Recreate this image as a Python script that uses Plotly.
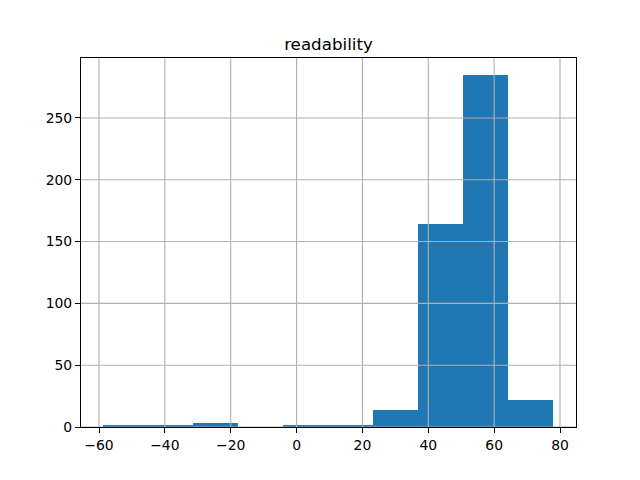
import plotly.graph_objects as go

bin_edges = [-58.8, -45.13, -31.46, -17.79, -4.12, 9.55, 23.22, 36.89, 50.56, 64.23, 77.9]
counts = [2, 1, 3, 0, 1, 1, 14, 164, 285, 22]
x_ticks = [-60, -40, -20, 0, 20, 40, 60, 80]
y_ticks = [0, 50, 100, 150, 200, 250]

centers = [(bin_edges[i] + bin_edges[i + 1]) / 2 for i in range(len(counts))]
widths = [bin_edges[i + 1] - bin_edges[i] for i in range(len(counts))]

fig = go.Figure(go.Bar(x=centers, y=counts, width=widths, marker=dict(color="#1f77b4", line=dict(width=0)),
                       hoverinfo="x+y"))

axis_common = dict(showline=True, linecolor="black", linewidth=1.1, mirror=True,
                   ticks="outside", ticklen=5, tickwidth=1.1, tickcolor="black",
                   showgrid=False, zeroline=False,
                   layer="above traces", tickfont=dict(family="DejaVu Sans", size=13.9, color="black"))

grid_style = dict(color="#b0b0b0", width=1.1)
shapes = []
for v in x_ticks:
    shapes.append(dict(type="line", xref="x", yref="paper", x0=v, x1=v, y0=0, y1=1, line=grid_style, layer="above"))
for v in y_ticks:
    shapes.append(dict(type="line", xref="paper", yref="y", x0=0, x1=1, y0=v, y1=v, line=grid_style, layer="above"))

fig.update_layout(
    width=640, height=480,
    margin=dict(l=81, r=64, t=58, b=53),
    paper_bgcolor="white", plot_bgcolor="white",
    showlegend=False,
    shapes=shapes,
    title=dict(text="readability", x=0.5, xanchor="center", y=1 - 44 / 480, yanchor="middle",
               xref="paper",
               font=dict(family="DejaVu Sans", size=16.7, color="black")),
    xaxis=dict(range=[-65.47, 84.86], tickvals=x_ticks, ticktext=[str(v).replace("-", "\u2212") for v in x_ticks], **axis_common),
    yaxis=dict(range=[0, 298.5], tickvals=y_ticks, ticktext=[str(v) for v in y_ticks], **axis_common),
    bargap=0,
)

fig.write_html("out.html")
